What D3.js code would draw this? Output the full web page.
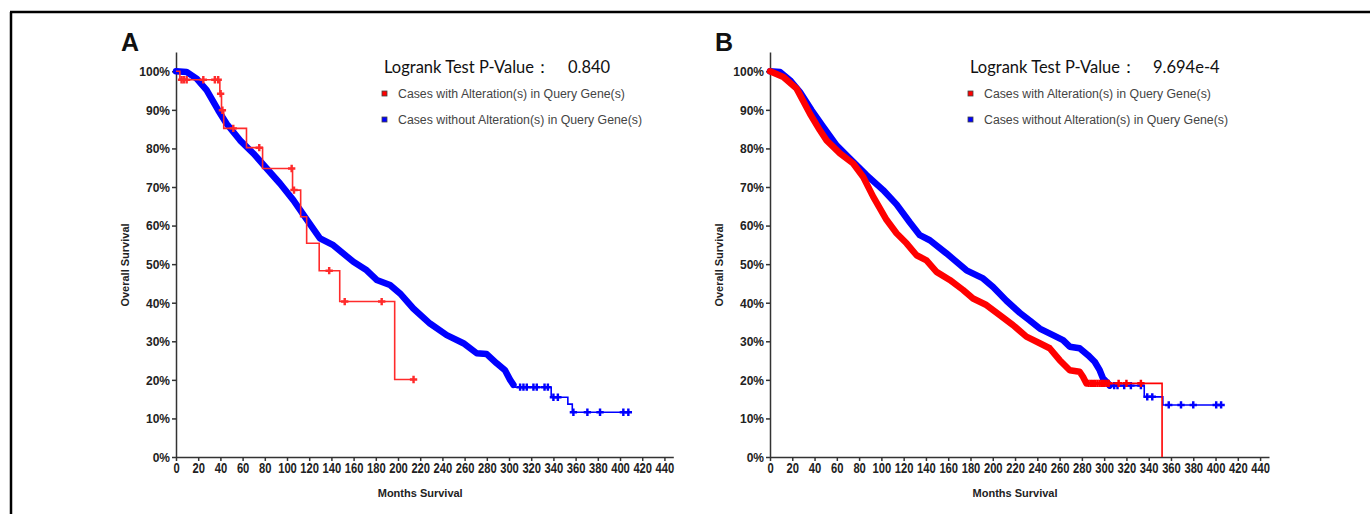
<!DOCTYPE html>
<html>
<head>
<meta charset="utf-8">
<script src="https://d3js.org/d3.v7.min.js"></script>
<style>
  body {margin: 0; background: #fff;}
  svg text {font-family: "Liberation Sans", Arial, sans-serif;}
  .tick text {font-weight: bold; fill: #222;}
  .axis path, .axis line {stroke: #333; stroke-width: 1.5;}
</style>
</head>
<body>
<svg id="chart" width="1370" height="514"></svg>
<script>
// tick labels
const monthTicks = [0, 20, 40, 60, 80, 100, 120, 140, 160, 180, 200, 220, 240, 260, 280, 300, 320, 340, 360, 380, 400, 420, 440];
const survTicks = [0, 10, 20, 30, 40, 50, 60, 70, 80, 90, 100];
const legendLabels = ["Cases with Alteration(s) in Query Gene(s)", "Cases without Alteration(s) in Query Gene(s)"];
const pValues = ["0.840", "9.694e-4"];

// panel A, unaltered cases (dense part read as a curve, sparse tail as steps)
const aBlueDenseMonths = [0, 9.6, 18.6, 27.6, 38, 45.6, 57.7, 69.7, 81.7, 93.7, 105.7, 117.7, 129.7, 141.7, 159.8, 171.8, 180.8, 192.8, 201.8, 213.8, 228.8, 243.9, 258.9, 270.9, 279.9, 288.9, 296.4, 301, 304];
const aBlueDenseSurv = [100, 99.8, 98.1, 95.1, 89.9, 86.4, 82.1, 78.7, 74.8, 70.9, 66.6, 61.6, 56.7, 54.9, 50.6, 48.4, 45.9, 44.6, 42.4, 38.5, 34.6, 31.6, 29.5, 26.9, 26.7, 24.3, 22.5, 20, 18.7];
const aBlueTailMonths = [304, 338, 353, 357];
const aBlueTailSurv = [18.1, 15.5, 13.7, 11.6];
const aBlueTailEnd = 408;
const aBlueCensors = [310, 313, 316, 322, 325, 332, 335, 340, 344, 358, 370.6, 382, 403, 407.5];

// panel A, altered cases
const aRedMonths = [0, 3.5, 39.5, 41, 43, 63.5, 78, 105, 112.3, 117.7, 129, 147.5, 197];
const aRedSurv = [100, 97.8, 94.2, 89.9, 85.2, 80.2, 74.8, 69.2, 62.3, 55.4, 48.3, 40.3, 20.1];
const aRedEnd = 214;
const aRedCensors = [5, 7, 9.6, 24.6, 35, 38, 40.2, 41.8, 51.6, 75, 104.2, 106.3, 138, 152, 185.3, 214];

// panel B, unaltered cases
const bBlueDenseMonths = [0, 9, 17.9, 26.9, 37.4, 47.8, 59.8, 71.7, 86.7, 101.6, 113.6, 125.6, 134.5, 143.5, 158.4, 176.4, 191.3, 200.3, 212.3, 224.2, 233.2, 242.2, 254.1, 263.1, 269.1, 278, 285.5, 291.5, 296, 298.9, 303.4, 305];
const bBlueDenseSurv = [100, 99.8, 97.7, 94.6, 89.9, 85.6, 80.8, 77.4, 73.1, 69.2, 65.5, 60.8, 57.5, 56.2, 52.8, 48.4, 46.3, 44.1, 40.5, 37.4, 35.4, 33.3, 31.6, 30.3, 28.6, 28.2, 26.4, 24.7, 22.5, 20.4, 19.1, 18.5];
const bBlueTailMonths = [305, 336, 352.7];
const bBlueTailSurv = [18.5, 15.6, 13.5];
const bBlueTailEnd = 406;
const bBlueCensors = [309, 312, 318, 324, 333, 338.7, 343.2, 358, 369, 380, 400.6, 405];

// panel B, altered cases
const bRedDenseMonths = [0, 12, 23.9, 35.9, 44.8, 50.8, 62.8, 74.7, 83.7, 92.6, 104.6, 113.6, 122.6, 131.6, 140.5, 149.5, 161.4, 173.4, 182.3, 194.3, 206.3, 218.2, 230.2, 242.2, 251.1, 260.1, 269.1, 278, 281, 284];
const bRedDenseSurv = [100, 98.5, 95.5, 89, 84.7, 82.1, 78.7, 76.1, 72.6, 67.5, 61.5, 58, 55.4, 52.3, 51, 48, 45.9, 43.3, 41.1, 39.4, 36.8, 34.2, 31.2, 29.5, 28.2, 25.1, 22.5, 22.1, 20.8, 19.1];
const bRedTailMonths = [284, 352];
const bRedTailSurv = [19.1, 0];
const bRedTailEnd = 352;
const bRedCensors = [286, 288, 290, 292, 294, 296, 298, 300, 302, 304, 313, 320, 333];

const RED = "#ff0000", BLUE = "#0000ff";
const svg = d3.select("#chart");

// outer frame
svg.append("path")
   .attr("d", "M10,12 H1370 M11,12 V514")
   .attr("stroke", "#000").attr("stroke-width", 2.5).attr("fill", "none");

function survAt(months, surv, t) {
  const i = d3.bisectRight(months, t) - 1;
  return surv[Math.max(0, i)];
}

function drawPanel(p) {
  const g = svg.append("g");
  const x = d3.scaleLinear().domain([0, 448]).range([p.x0, p.x1]);
  const y = d3.scaleLinear().domain([0, 105]).range([457, 52]);

  // x labels are tall and narrow in the original
  g.append("g").attr("class", "axis")
   .attr("transform", "translate(0,457)")
   .call(d3.axisBottom(x).tickValues(monthTicks).tickSize(4).tickSizeOuter(0).tickPadding(2))
   .selectAll("text").style("font-size", "14px").attr("transform", "scale(0.8,1)");

  g.append("g").attr("class", "axis")
   .attr("transform", `translate(${p.x0},0)`)
   .call(d3.axisLeft(y).tickValues(survTicks).tickFormat(d => d + "%").tickSize(4).tickSizeOuter(0).tickPadding(2))
   .selectAll("text").style("font-size", "12px").attr("dy", "0.36em");

  g.append("text").text(p.label)
   .attr("x", p.x0 - 55).attr("y", 51)
   .style("font-size", "25px").style("font-weight", "bold").attr("fill", "#111");

  g.append("text").text("Overall Survival")
   .attr("transform", `translate(${p.x0 - 47},265) rotate(-90)`)
   .attr("text-anchor", "middle")
   .style("font-size", "11px").style("font-weight", "bold").attr("fill", "#222");

  g.append("text").text("Months Survival")
   .attr("x", x(220)).attr("y", 497)
   .attr("text-anchor", "middle")
   .style("font-size", "11px").style("font-weight", "bold").attr("fill", "#222");

  // logrank + legend
  const t = g.append("text").attr("x", p.lx).attr("y", 73)
   .style("font-family", "Lato, 'Open Sans', sans-serif").style("font-size", "16.5px").attr("fill", "#111");
  t.append("tspan").text("Logrank Test P-Value：");
  t.append("tspan").attr("x", p.lx + p.vOff).text(p.pValue);

  [RED, BLUE].forEach((c, i) => {
    g.append("rect").attr("x", p.lx - 2).attr("y", 91 + i * 26).attr("width", 5).attr("height", 5)
     .attr("fill", c).attr("stroke", "#444").attr("stroke-width", 0.8);
    g.append("text").text(legendLabels[i])
     .attr("x", p.lx + 14).attr("y", 98 + i * 26)
     .style("font-size", "12.3px").attr("fill", "#444");
  });

  const linear = d3.line().x(d => x(d[0])).y(d => y(d[1]));
  const step = d3.line().x(d => x(d[0])).y(d => y(d[1])).curve(d3.curveStepAfter);
  const cross = d3.symbol().type(d3.symbolCross).size(30);

  p.curves.forEach(c => {
    if (c.denseMonths) {
      g.append("path")
       .datum(c.denseMonths.map((m, i) => [m, c.denseSurv[i]]))
       .attr("d", linear).attr("fill", "none").attr("stroke", c.color)
       .attr("stroke-width", 6.5).attr("stroke-linejoin", "round").attr("stroke-linecap", "round");
    }
    const pts = c.stepMonths.map((m, i) => [m, c.stepSurv[i]]);
    pts.push([c.end, c.stepSurv[c.stepSurv.length - 1]]);
    g.append("path").datum(pts)
     .attr("d", step).attr("fill", "none").attr("stroke", c.color)
     .attr("stroke-width", c.width);
    g.selectAll(null).data(c.censors).enter().append("path")
     .attr("d", cross)
     .attr("transform", d => `translate(${x(d)},${y(survAt(c.stepMonths, c.stepSurv, d))})`)
     .attr("fill", c.color);
  });
}

drawPanel({
  label: "A", x0: 176, x1: 673.3, lx: 384, vOff: 184, pValue: pValues[0],
  curves: [
    {color: BLUE, width: 1.6, denseMonths: aBlueDenseMonths, denseSurv: aBlueDenseSurv,
     stepMonths: aBlueTailMonths, stepSurv: aBlueTailSurv, end: aBlueTailEnd, censors: aBlueCensors},
    {color: "#ff2b2b", width: 1.6, stepMonths: aRedMonths, stepSurv: aRedSurv, end: aRedEnd, censors: aRedCensors}
  ]
});

drawPanel({
  label: "B", x0: 770, x1: 1269, lx: 970, vOff: 183, pValue: pValues[1],
  curves: [
    {color: BLUE, width: 1.6, denseMonths: bBlueDenseMonths, denseSurv: bBlueDenseSurv,
     stepMonths: bBlueTailMonths, stepSurv: bBlueTailSurv, end: bBlueTailEnd, censors: bBlueCensors},
    {color: RED, width: 1.6, denseMonths: bRedDenseMonths, denseSurv: bRedDenseSurv,
     stepMonths: bRedTailMonths, stepSurv: bRedTailSurv, end: bRedTailEnd, censors: bRedCensors}
  ]
});
</script>
</body>
</html>
